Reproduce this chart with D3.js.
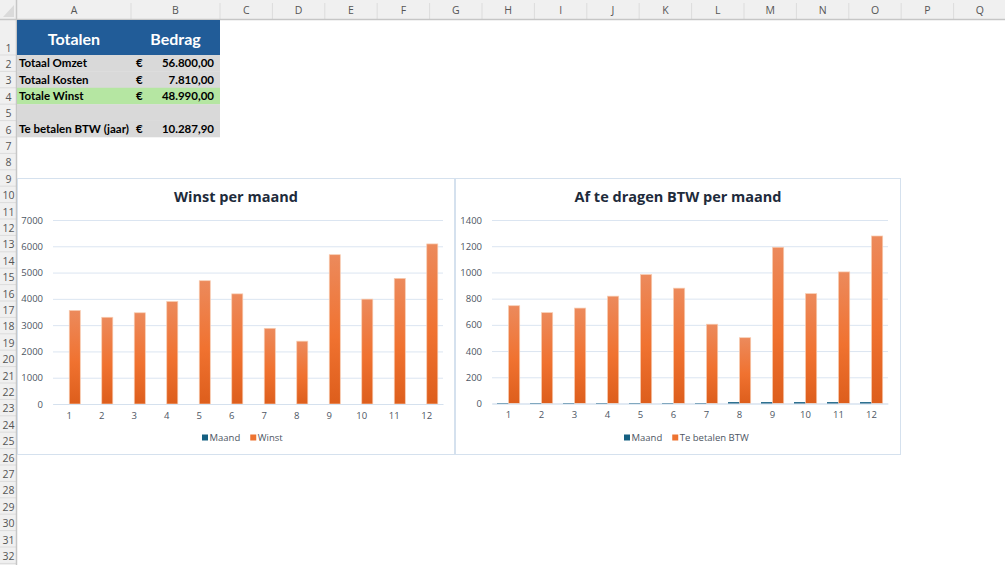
<!DOCTYPE html>
<html>
<head>
<meta charset="utf-8">
<script src="https://cdn.jsdelivr.net/npm/d3@7"></script>
<style>
  body { margin: 0; background: #fff; overflow: hidden; }
  svg { display: block; font-family: "Open Sans", sans-serif; }
</style>
</head>
<body>
<script>
// Spreadsheet headers
const columnLetters = ["A", "B", "C", "D", "E", "F", "G", "H", "I", "J", "K", "L", "M", "N", "O", "P", "Q"];
const rowNumbers = d3.range(1, 33);

// Summary table
const tableHeaders = ["Totalen", "Bedrag"];
const tableLabels = ["Totaal Omzet", "Totaal Kosten", "Totale Winst", "", "Te betalen BTW (jaar)"];
const tableValues = ["56.800,00", "7.810,00", "48.990,00", "", "10.287,90"];

// Chart data
const months = [1, 2, 3, 4, 5, 6, 7, 8, 9, 10, 11, 12];
const maand = [1, 2, 3, 4, 5, 6, 7, 8, 9, 10, 11, 12];
const winst = [3560, 3300, 3470, 3900, 4690, 4190, 2880, 2390, 5680, 3990, 4780, 6090];
const btw = [746, 693, 728, 819, 984, 880, 605, 502, 1192, 838, 1004, 1278];
const winstTicks = [0, 1000, 2000, 3000, 4000, 5000, 6000, 7000];
const btwTicks = [0, 200, 400, 600, 800, 1000, 1200, 1400];

const W = 1005, H = 565;
const headH = 20, rowHeadW = 17;
const row1H = 35, rowH = 16.4;
const colWidths = [114, 89].concat(d3.range(15).map(() => 52.4));

const svg = d3.select("body").append("svg")
  .attr("width", W)
  .attr("height", H);

const defs = svg.append("defs");
const grad = defs.append("linearGradient")
  .attr("id", "orangeGrad")
  .attr("x1", 0).attr("y1", 0).attr("x2", 0).attr("y2", 1);
grad.append("stop").attr("offset", "0%").attr("stop-color", "#ec8a5c");
grad.append("stop").attr("offset", "55%").attr("stop-color", "#f07230");
grad.append("stop").attr("offset", "100%").attr("stop-color", "#dd5e1c");

// column edges
const colX = [rowHeadW];
colWidths.forEach(w => colX.push(colX[colX.length - 1] + w));
const rowTop = i => i === 0 ? headH : headH + row1H + (i - 1) * rowH;
const rowBottom = i => i === 0 ? headH + row1H : rowTop(i) + rowH;

// ---- header bars
svg.append("rect").attr("x", 0).attr("y", 0).attr("width", W).attr("height", headH).attr("fill", "#f0f0f0");
svg.append("rect").attr("x", 0).attr("y", 0).attr("width", rowHeadW).attr("height", H).attr("fill", "#f0f0f0");
svg.append("path").attr("d", "M14,5 L14,17 L3,17 Z").attr("fill", "#dadada");

const colHead = svg.append("g");
columnLetters.forEach((c, i) => {
  colHead.append("text")
    .attr("x", (colX[i] + colX[i + 1]) / 2)
    .attr("y", 14)
    .attr("text-anchor", "middle")
    .attr("font-size", 10.5)
    .attr("fill", "#555")
    .text(c);
  colHead.append("line")
    .attr("x1", colX[i + 1]).attr("x2", colX[i + 1])
    .attr("y1", 3).attr("y2", headH)
    .attr("stroke", "#dcdcdc");
});
svg.append("line").attr("x1", 0).attr("x2", W).attr("y1", headH - 0.5).attr("y2", headH - 0.5)
  .attr("stroke", "#c6c6c6").attr("stroke-width", 1.5);

const rowHead = svg.append("g");
rowNumbers.forEach((r, i) => {
  rowHead.append("text")
    .attr("x", rowHeadW / 2)
    .attr("y", rowBottom(i) - 3.5)
    .attr("text-anchor", "middle")
    .attr("font-size", 10.5)
    .attr("fill", "#555")
    .text(r);
  rowHead.append("line")
    .attr("x1", 0).attr("x2", rowHeadW)
    .attr("y1", rowBottom(i)).attr("y2", rowBottom(i))
    .attr("stroke", "#dcdcdc");
});
svg.append("line").attr("x1", rowHeadW - 0.5).attr("x2", rowHeadW - 0.5).attr("y1", 0).attr("y2", H)
  .attr("stroke", "#c6c6c6").attr("stroke-width", 1.5);

// ---- summary table
const table = svg.append("g").attr("font-family", "Lato, sans-serif");
table.append("rect")
  .attr("x", colX[0]).attr("y", rowTop(0))
  .attr("width", colX[2] - colX[0]).attr("height", row1H)
  .attr("fill", "#215c98");
tableHeaders.forEach((t, i) => {
  table.append("text")
    .attr("x", (colX[i] + colX[i + 1]) / 2)
    .attr("y", rowTop(0) + 25)
    .attr("text-anchor", "middle")
    .attr("font-size", 16)
    .attr("font-weight", 700)
    .attr("fill", "#fff")
    .text(t);
});
tableLabels.forEach((t, i) => {
  const r = i + 1;
  table.append("rect")
    .attr("x", colX[0]).attr("y", rowTop(r))
    .attr("width", colX[2] - colX[0]).attr("height", rowH + 0.3)
    .attr("fill", t === "Totale Winst" ? "#b5e6a2" : "#d9d9d9");
  if (t === "") return;
  const ty = rowBottom(r) - 4;
  table.append("text").attr("x", colX[0] + 2).attr("y", ty)
    .attr("font-size", 11.5).attr("font-weight", 700).attr("fill", "#000").text(t);
  table.append("text").attr("x", colX[1] + 5).attr("y", ty)
    .attr("font-size", 11.5).attr("font-weight", 700).attr("fill", "#000").text("€");
  table.append("text").attr("x", colX[2] - 6).attr("y", ty)
    .attr("text-anchor", "end")
    .attr("font-size", 11.5).attr("font-weight", 700).attr("fill", "#000").text(tableValues[i]);
});

// ---- charts
function drawChart(opts) {
  const g = svg.append("g");
  g.append("rect")
    .attr("x", opts.box[0] + 0.5).attr("y", opts.box[1] + 0.5)
    .attr("width", opts.box[2] - 1).attr("height", opts.box[3] - 1)
    .attr("fill", "#fff")
    .attr("stroke", "#d5e1ee");

  g.append("text")
    .attr("x", opts.box[0] + opts.box[2] / 2)
    .attr("y", opts.box[1] + 24)
    .attr("text-anchor", "middle")
    .attr("font-size", 14.5)
    .attr("font-weight", 700)
    .attr("fill", "#1e2b3b")
    .text(opts.title);

  const x0 = d3.scaleBand()
    .domain(months)
    .range([opts.left, opts.right])
    .paddingInner(0.32)
    .paddingOuter(0.16);
  const x1 = d3.scaleBand()
    .domain(["Maand", opts.seriesName])
    .range([0, x0.bandwidth()]);
  const y = d3.scaleLinear()
    .domain([0, d3.max(opts.ticks)])
    .range([opts.bottom, opts.top]);

  // gridlines + y labels
  const yAxis = g.append("g")
    .attr("transform", "translate(" + opts.left + ",0)")
    .call(d3.axisLeft(y)
      .tickValues(opts.ticks)
      .tickSize(-(opts.right - opts.left))
      .tickPadding(10)
      .tickFormat(d3.format("d")));
  yAxis.select(".domain").remove();
  yAxis.selectAll(".tick line").attr("stroke", "#dbe5f1");
  yAxis.selectAll(".tick text")
    .attr("font-family", "Open Sans, sans-serif")
    .attr("font-size", 9.5)
    .attr("fill", "#4d5663");

  const series = [
    { name: "Maand", values: maand, fill: "#2f7190" },
    { name: opts.seriesName, values: opts.values, fill: "url(#orangeGrad)" }
  ];
  series.forEach(s => {
    g.selectAll(null)
      .data(months)
      .enter().append("rect")
      .attr("x", (d) => x0(d) + x1(s.name))
      .attr("y", (d, i) => y(s.values[i]))
      .attr("width", x1.bandwidth())
      .attr("height", (d, i) => opts.bottom - y(s.values[i]))
      .attr("fill", s.fill)
      .attr("shape-rendering", s.name === "Maand" ? "crispEdges" : null)
      .attr("stroke", s.name === "Maand" ? "none" : "#f8cdb2")
      .attr("stroke-width", 0.7);
  });

  // x axis
  const xAxis = g.append("g")
    .attr("transform", "translate(0," + opts.bottom + ")")
    .call(d3.axisBottom(x0).tickSize(0).tickPadding(8));
  xAxis.select(".domain").attr("stroke", "#d5e1ee");
  xAxis.selectAll(".tick text")
    .attr("font-family", "Open Sans, sans-serif")
    .attr("font-size", 9.5)
    .attr("fill", "#4d5663");

  // legend
  const leg = g.append("g");
  let lx = opts.legendX;
  const ly = opts.box[1] + opts.box[3] - 14;
  series.forEach((s, i) => {
    leg.append("rect")
      .attr("x", lx).attr("y", ly - 6.5)
      .attr("width", 6).attr("height", 6)
      .attr("fill", s.name === "Maand" ? "#156082" : "#ee7330");
    const t = leg.append("text")
      .attr("x", lx + 7.5).attr("y", ly)
      .attr("font-size", 9.5)
      .attr("fill", "#4d5663")
      .text(s.name);
    lx += 7.5 + t.node().getComputedTextLength() + 10;
  });
}

drawChart({
  box: [17, 178, 438, 277],
  title: "Winst per maand",
  left: 53, right: 443, top: 220, bottom: 404,
  ticks: winstTicks,
  values: winst,
  seriesName: "Winst",
  legendX: 202
});

drawChart({
  box: [455, 178, 446, 277],
  title: "Af te dragen BTW per maand",
  left: 492, right: 888, top: 220, bottom: 403.5,
  ticks: btwTicks,
  values: btw,
  seriesName: "Te betalen BTW",
  legendX: 624
});
</script>
</body>
</html>
